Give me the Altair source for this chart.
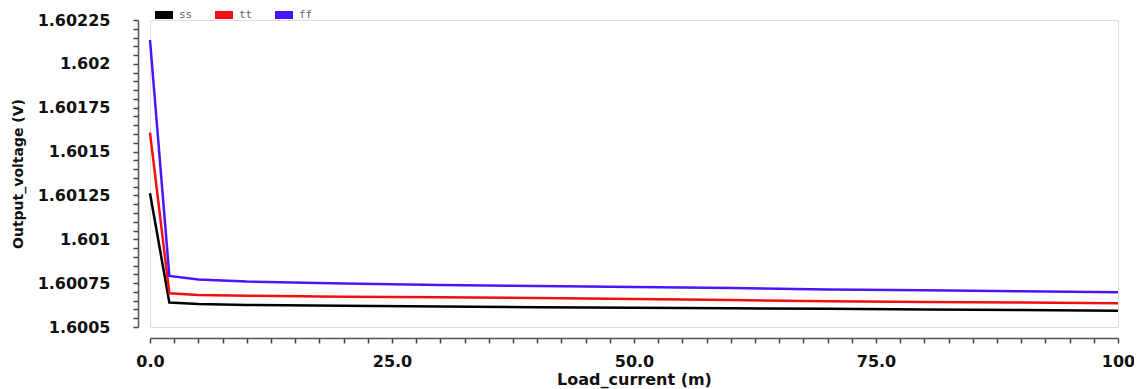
import altair as alt
import pandas as pd

# Load current (mA)
load_current = [0, 2, 5, 10, 20, 30, 40, 50, 60, 70, 80, 90, 100]

# Output voltage (V) per corner
ss = [1.601262, 1.600639, 1.600631, 1.600626, 1.600621, 1.600617, 1.600612,
      1.600610, 1.600607, 1.600604, 1.600600, 1.600597, 1.600593]
tt = [1.601608, 1.600692, 1.600682, 1.600678, 1.600673, 1.600669, 1.600665,
      1.600660, 1.600654, 1.600647, 1.600643, 1.600640, 1.600635]
ff = [1.602136, 1.600791, 1.600771, 1.600759, 1.600748, 1.600739, 1.600734,
      1.600728, 1.600722, 1.600714, 1.600709, 1.600704, 1.600698]

series_names = ["ss", "tt", "ff"]
series_colors = ["#000000", "#f01010", "#4b14ff"]

# tick positions (major + minor)
x_ticks = [i * 2.5 for i in range(41)]
y_ticks = [round(1.6005 + i * 0.00005, 5) for i in range(36)]

rows = []
for name, vals in zip(series_names, [ss, tt, ff]):
    for x, v in zip(load_current, vals):
        rows.append({"x": x, "v": v, "series": name})
df = pd.DataFrame(rows)

FONT = "DejaVu Sans"

x_major = "datum.value % 25 === 0"
x_axis = alt.Axis(
    values=x_ticks,
    labelExpr=x_major + " ? (datum.value === 100 ? '100' : format(datum.value, '.1f')) : ''",
    ticks=True,
    tickSize=5,
    tickOpacity=1,
    labelOverlap=False,
    labelFlush=False,
    grid=False,
    offset=11,
    domainColor="#555555",
    tickColor="#444444",
    domainWidth=1.5,
    tickWidth=1.5,
    labelFont=FONT,
    labelFontSize=16,
    labelFontWeight="bold",
    labelColor="#111111",
    labelPadding=10,
    title="Load_current (m)",
    titleFont=FONT,
    titleFontSize=16,
    titleFontWeight="bold",
    titleColor="#111111",
    titlePadding=2,
)

y_major = "abs(datum.value*4000 - round(datum.value*4000)) < 0.001"
y_axis = alt.Axis(
    values=y_ticks,
    labelExpr=y_major + " ? format(datum.value, '.5~f') : ''",
    ticks=True,
    tickSize=5,
    tickOpacity=1,
    labelOverlap=False,
    labelFlush=False,
    grid=False,
    offset=12,
    domainColor="#555555",
    tickColor="#444444",
    domainWidth=1.5,
    tickWidth=1.5,
    labelFont=FONT,
    labelFontSize=16,
    labelFontWeight="bold",
    labelColor="#111111",
    labelPadding=23,
    title="Output_voltage (V)",
    titleFont=FONT,
    titleFontSize=14,
    titleFontWeight="bold",
    titleColor="#111111",
    titlePadding=12,
)

legend = alt.Legend(
    title=None,
    orient="none",
    legendX=1,
    legendY=-18,
    direction="horizontal",
    symbolType="M-1,0L1,0",
    symbolSize=324,
    symbolStrokeWidth=8,
    labelFont="DejaVu Sans Mono",
    labelFontSize=11,
    labelColor="#666666",
    labelOffset=2,
    columnPadding=6,
)

chart = alt.Chart(df).mark_line(strokeWidth=2.5).encode(
    x=alt.X("x:Q", scale=alt.Scale(domain=[0, 100], nice=False), axis=x_axis),
    y=alt.Y("v:Q", scale=alt.Scale(domain=[1.6005, 1.60225], nice=False, zero=False), axis=y_axis),
    color=alt.Color("series:N", sort=series_names,
                    scale=alt.Scale(domain=series_names, range=series_colors),
                    legend=legend),
).properties(
    width=968,
    height=307,
    autosize=alt.AutoSizeParams(type="none"),
    padding={"left": 142, "top": 12, "right": 16, "bottom": 62},
).configure_view(stroke=None).configure(background="white")

chart.save("out.html", embed_options={"renderer": "svg", "actions": False})
